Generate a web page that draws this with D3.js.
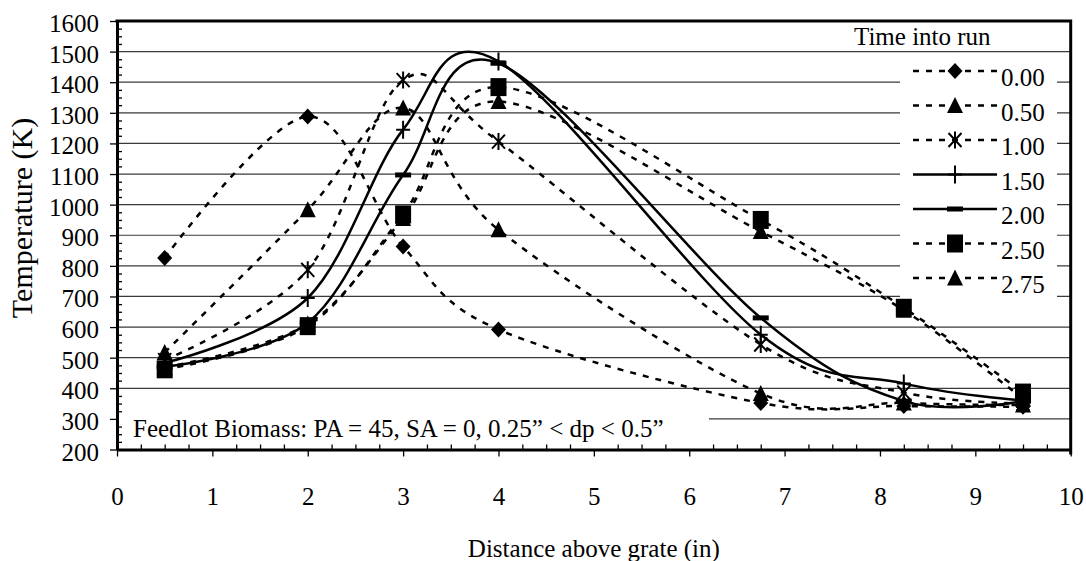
<!DOCTYPE html>
<html>
<head>
<meta charset="utf-8">
<script src="https://cdn.jsdelivr.net/npm/d3@7/dist/d3.min.js"></script>
<style>
  html, body { margin: 0; padding: 0; background: #fff; }
  svg text { font-family: "Liberation Serif", "Times New Roman", serif; fill: #000; }
</style>
</head>
<body>
<svg id="chart" width="1086" height="561"></svg>
<script>
// Temperature profiles along the bed height at several times into the run
const distances = [0.5, 2, 3, 4, 6.75, 8.25, 9.5];
const timeLabels = ["0.00", "0.50", "1.00", "1.50", "2.00", "2.50", "2.75"];
const temps000 = [826, 1288, 863, 592, 352, 342, 340];
const temps050 = [517, 983, 1316, 918, 383, 352, 345];
const temps100 = [492, 787, 1407, 1206, 543, 386, 350];
const temps150 = [483, 695, 1245, 1468, 575, 416, 360];
const temps200 = [470, 614, 1097, 1462, 630, 358, 358];
const temps250 = [462, 603, 968, 1384, 950, 663, 386];
const temps275 = [468, 610, 955, 1337, 912, 655, 365];

const xTicks = [0, 1, 2, 3, 4, 5, 6, 7, 8, 9, 10];
const yTicks = [200, 300, 400, 500, 600, 700, 800, 900, 1000, 1100, 1200, 1300, 1400, 1500, 1600];
const xTitle = "Distance above grate (in)";
const yTitle = "Temperature (K)";
const legendTitle = "Time into run";
const note = "Feedlot Biomass: PA = 45, SA = 0, 0.25\u201D < dp < 0.5\u201D";

const seriesValues = [temps000, temps050, temps100, temps150, temps200, temps250, temps275];
const markers = ["diamond", "triangle", "asterisk", "plus", "dash", "square", "triangle"];
const solid = [false, false, false, true, true, false, false];

(function () {
const svg = d3.select("#chart");
const FS = 25;
const pL = 117, pR = 1070.7, pT = 21, pB = 449.5;

const x = d3.scaleLinear().domain([0, 10]).range([pL, pR]);
const y = d3.scaleLinear().domain([200, 1600]).range([pB, pT]);

// horizontal gridlines
svg.append("g").selectAll("line")
  .data(yTicks.filter(v => v > 200 && v < 1600))
  .join("line")
  .attr("x1", pL).attr("x2", pR)
  .attr("y1", d => y(d)).attr("y2", d => y(d))
  .attr("stroke", "#3a3a3a").attr("stroke-width", 1.2);

// white boxes behind the note and the legend
svg.append("rect").attr("x", pL + 1).attr("y", y(400) + 14)
  .attr("width", 708 - pL).attr("height", pB - y(400) - 15).attr("fill", "#fff");
svg.append("rect").attr("x", 900).attr("y", 58)
  .attr("width", 157).attr("height", 241).attr("fill", "#fff");

// marker drawing
function drawMarker(g, type, cx, cy) {
  if (type === "diamond") {
    g.append("path").attr("d", `M${cx},${cy - 8}L${cx + 7.5},${cy}L${cx},${cy + 8}L${cx - 7.5},${cy}Z`).attr("fill", "#000");
  } else if (type === "triangle") {
    g.append("path").attr("d", `M${cx},${cy - 8.5}L${cx + 8},${cy + 7.5}L${cx - 8},${cy + 7.5}Z`).attr("fill", "#000");
  } else if (type === "square") {
    g.append("rect").attr("x", cx - 8).attr("y", cy - 9).attr("width", 16).attr("height", 18).attr("fill", "#000");
  } else if (type === "dash") {
    g.append("rect").attr("x", cx - 8).attr("y", cy - 2.5).attr("width", 16).attr("height", 5).attr("fill", "#000");
  } else if (type === "plus") {
    g.append("path").attr("d", `M${cx},${cy - 9}V${cy + 9}M${cx - 7},${cy}H${cx + 7}`)
      .attr("stroke", "#000").attr("stroke-width", 2).attr("fill", "none");
  } else if (type === "asterisk") {
    g.append("path").attr("d", `M${cx - 6.5},${cy - 7}L${cx + 6.5},${cy + 7}M${cx + 6.5},${cy - 7}L${cx - 6.5},${cy + 7}M${cx},${cy - 8.5}V${cy + 8.5}`)
      .attr("stroke", "#000").attr("stroke-width", 2).attr("fill", "none");
  }
}

const line = d3.line()
  .x(d => x(d[0])).y(d => y(d[1]))
  .curve(d3.curveCardinal.tension(0));

const plot = svg.append("g");
seriesValues.forEach((vals, i) => {
  const pts = distances.map((d, j) => [d, vals[j]]);
  const g = plot.append("g");
  g.append("path").datum(pts).attr("d", line)
    .attr("fill", "none").attr("stroke", "#000").attr("stroke-width", 2.5)
    .attr("stroke-dasharray", solid[i] ? null : "6,7");
  pts.forEach(p => drawMarker(g, markers[i], x(p[0]), y(p[1])));
});

// axes
const yAxis = svg.append("g").attr("transform", `translate(${pL},0)`)
  .call(d3.axisLeft(y).tickValues(yTicks).tickSize(7).tickSizeOuter(0).tickPadding(11).tickFormat(d3.format("d")));
yAxis.selectAll("text").attr("font-size", FS).attr("dy", null).attr("y", 10.5)
  .style("font-family", '"Liberation Serif", serif');
const yMinor = d3.range(200, 1601, 25).filter(v => v % 100 !== 0);
svg.append("g").attr("transform", `translate(${pL},0)`)
  .call(d3.axisLeft(y).tickValues(yMinor).tickSize(-5).tickFormat(""))
  .call(g => g.select(".domain").remove());

const xAxis = svg.append("g").attr("transform", `translate(0,${pB})`)
  .call(d3.axisBottom(x).tickValues(xTicks).tickSize(7).tickSizeOuter(0).tickFormat(d3.format("d")));
xAxis.selectAll("text").attr("font-size", FS).attr("dy", null).attr("y", 55)
  .style("font-family", '"Liberation Serif", serif');
const xMinor = d3.range(0, 10.01, 0.25).filter(v => Math.abs(v - Math.round(v)) > 0.01);
svg.append("g").attr("transform", `translate(0,${pB})`)
  .call(d3.axisBottom(x).tickValues(xMinor).tickSize(-5).tickFormat(""))
  .call(g => g.select(".domain").remove());

svg.selectAll(".tick line").attr("stroke", "#000").attr("stroke-width", 1.3);
svg.selectAll(".domain").attr("stroke", "#000").attr("stroke-width", 3);

// top and right frame
svg.append("path").attr("d", `M${pL - 1.5},${pT}H${pR}V${pB + 5}`)
  .attr("fill", "none").attr("stroke", "#000").attr("stroke-width", 3);

// titles
svg.append("text").attr("x", (pL + pR) / 2).attr("y", 557)
  .attr("text-anchor", "middle").attr("font-size", FS).text(xTitle);
svg.append("text").attr("transform", "translate(32,218) rotate(-90)")
  .attr("text-anchor", "middle").attr("font-size", 30).text(yTitle);

// note
svg.append("text").attr("x", 133).attr("y", 437).attr("font-size", FS).text(note);

// legend
svg.append("text").attr("x", 854).attr("y", 45).attr("font-size", FS).text(legendTitle);
const legend = svg.append("g");
timeLabels.forEach((lab, i) => {
  const ly = 71 + i * 34.5;
  const g = legend.append("g");
  g.append("line").attr("x1", 913).attr("x2", 997).attr("y1", ly).attr("y2", ly)
    .attr("stroke", "#000").attr("stroke-width", 2.5)
    .attr("stroke-dasharray", solid[i] ? null : "6,7");
  drawMarker(g, markers[i], 955, ly);
  g.append("text").attr("x", 1001).attr("y", ly + 15).attr("font-size", FS).text(lab);
});
})();
</script>
</body>
</html>
